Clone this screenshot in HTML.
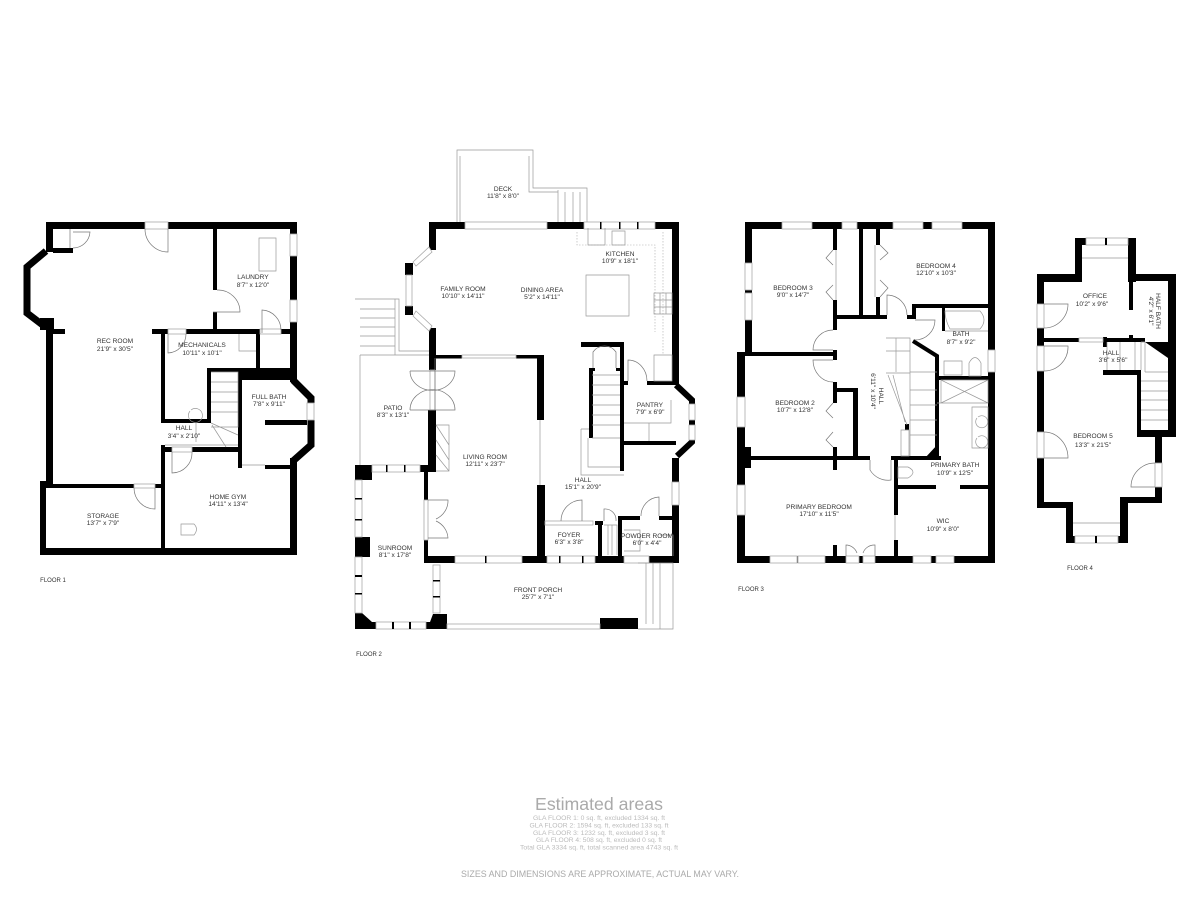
<!DOCTYPE html>
<html><head><meta charset="utf-8"><style>
html,body{margin:0;padding:0;background:#fff}
svg{display:block}
text{font-family:"Liberation Sans",sans-serif;font-size:6.6px;fill:#333;text-anchor:middle}
.b{fill:#000;stroke:none}
.w{fill:#fff;stroke:#aaa;stroke-width:.8}
.l{fill:none;stroke:#999;stroke-width:.7}
.d{fill:none;stroke:#777;stroke-width:.7}
.k{fill:none;stroke:#000}
.f{fill:#bbb;font-size:6.2px}
</style></head><body>
<svg width="1200" height="900" viewBox="0 0 1200 900" xmlns="http://www.w3.org/2000/svg">
<rect width="1200" height="900" fill="#fff"/>

<!-- FLOOR 1 -->
<g class="b">
<rect x="46" y="222" width="99" height="7"/><rect x="168" y="222" width="129" height="7"/>
<rect x="46" y="222" width="7" height="30"/><rect x="53" y="248" width="20" height="5"/>
<rect x="40" y="318" width="14" height="12"/><rect x="46" y="330" width="7" height="154"/>
<rect x="53" y="329" width="12" height="5"/><rect x="152" y="329" width="16" height="5"/><rect x="186" y="329" width="74" height="5"/><rect x="281" y="329" width="16" height="5"/>
<rect x="213" y="229" width="4" height="61"/><rect x="213" y="312" width="4" height="18"/>
<rect x="290" y="222" width="7" height="12"/><rect x="290" y="256" width="7" height="44"/><rect x="290" y="322" width="7" height="60"/>
<rect x="239" y="368" width="58" height="12"/><rect x="207" y="368" width="32" height="4"/><rect x="207" y="368" width="4" height="55"/>
<rect x="161" y="334" width="4" height="89"/><rect x="161" y="419" width="50" height="4"/><rect x="238" y="372" width="4" height="96"/><rect x="256" y="334" width="4" height="34"/>
<rect x="265" y="465" width="25" height="4"/><rect x="265" y="420" width="42" height="5"/>
<rect x="161" y="445" width="4" height="110"/><rect x="161" y="447" width="11" height="5"/><rect x="192" y="447" width="46" height="5"/>
<rect x="40" y="484" width="94" height="4"/><rect x="155" y="484" width="6" height="4"/>
<rect x="40" y="481" width="6" height="74"/><rect x="40" y="548" width="257" height="7"/><rect x="290" y="458" width="7" height="97"/>
</g>
<path class="k" stroke-width="7" d="M46 251L27 267V313L44 326"/>
<path class="k" stroke-width="7" d="M293 380L311 398V403M311 420V445L293 461"/>
<rect class="w" x="290" y="234" width="7" height="22"/><rect class="w" x="290" y="300" width="7" height="22"/><rect class="w" x="307" y="403" width="7" height="17"/>
<rect class="w" x="260" y="329" width="21" height="5"/><rect class="w" x="168" y="329" width="18" height="5"/><rect class="w" x="134" y="484" width="21" height="4"/><rect class="w" x="172" y="447" width="20" height="5"/><rect class="w" x="145" y="222" width="23" height="7"/>
<path class="d" d="M70 229V248M73 232H90A17 17 0 0 1 73 248M168 229V252A23 23 0 0 1 145 229M217 290A22 22 0 0 1 240 312H213M262 333V310A20 20 0 0 1 281 330M168 334V353A19 19 0 0 0 186 334M155 488V509A21 21 0 0 1 134 488M172 452V473A20 20 0 0 0 192 452"/>
<path class="l" d="M259 238H276V271H259ZM239 334V351H256M211 372H238V427H211M211 382H238M211 392H238M211 402H238M211 412H238M196 423V442M211 423L238 435M212 425L226 447M165 445H238M242 465H265M181 524H194Q199 529 194 535H181ZM190 411A7 7 0 1 0 191 410"/>

<text x="115" y="343">REC ROOM</text><text x="115" y="351">21'9" x 30'5"</text>
<text x="253" y="279">LAUNDRY</text><text x="253" y="287">8'7" x 12'0"</text>
<text x="202" y="347">MECHANICALS</text><text x="202" y="355">10'11" x 10'1"</text>
<text x="269" y="399">FULL BATH</text><text x="269" y="406">7'8" x 9'11"</text>
<text x="184" y="430">HALL</text><text x="184" y="438">3'4" x 2'10"</text>
<text x="228" y="499">HOME GYM</text><text x="228" y="506">14'11" x 13'4"</text>
<text x="103" y="518">STORAGE</text><text x="103" y="525">13'7" x 7'9"</text>
<text x="53" y="582" style="font-size:6px">FLOOR 1</text>

<!-- FLOOR 2 -->
<path class="l" stroke-width="1" d="M457 222V150H533V188H587V222M460 222V156M529 156V192H558M558 190V222M565 192V222M573 192V222M580 192V222"/>
<g class="b">
<rect x="429" y="222" width="36" height="7"/><rect x="547" y="222" width="37" height="7"/><rect x="655" y="222" width="24" height="7"/><rect x="672" y="222" width="7" height="163"/>
<rect x="429" y="222" width="7" height="28"/><rect x="405" y="263" width="8" height="12"/><rect x="405" y="306" width="8" height="9"/>
<rect x="429" y="328" width="7" height="42"/><rect x="428" y="410" width="8" height="62"/>
<rect x="436" y="355" width="26" height="3.500"/><rect x="516" y="355" width="28" height="3.500"/><rect x="537" y="355" width="7" height="65"/><rect x="537" y="485" width="8" height="78"/>
<rect x="424" y="472" width="4" height="28"/><rect x="424" y="540" width="4" height="20"/>
<rect x="424" y="556" width="31" height="7"/><rect x="522" y="556" width="25" height="7"/><rect x="595" y="556" width="29" height="7"/><rect x="649" y="556" width="30" height="7"/>
<rect x="595" y="521" width="8" height="4"/><rect x="598" y="521" width="4" height="36"/><rect x="618" y="516" width="4" height="41"/><rect x="618" y="516" width="22" height="4"/><rect x="659" y="516" width="14" height="4"/>
<rect x="581" y="342" width="43" height="5"/><rect x="620" y="342" width="4" height="129"/><rect x="647" y="381" width="26" height="4"/><rect x="624" y="381" width="4" height="4"/><rect x="624" y="441" width="52" height="4"/>
<rect x="589" y="368" width="4" height="70"/><rect x="589" y="368" width="6" height="3"/><rect x="616" y="368" width="4" height="3"/>
<rect x="672" y="458" width="7" height="24"/><rect x="672" y="505" width="7" height="58"/>
<rect x="355" y="465" width="17" height="15"/><rect x="420" y="465" width="8" height="7"/><rect x="355" y="537" width="15" height="20"/>
<path d="M355 613H362L372 622H376V629H355Z"/><path d="M426 629V622H430L433 614H447V629Z"/>
<rect x="600" y="618" width="38" height="11"/>
</g>
<path class="k" stroke-width="6" d="M676 385L692 400V404M692 420V425M692 440V442L677 456"/>
<g class="w">
<rect x="465" y="222" width="82" height="7"/><rect x="584" y="222" width="71" height="7"/><rect x="406" y="275" width="6" height="31"/>
<rect x="455" y="556" width="67" height="7"/><rect x="547" y="556" width="48" height="7"/><rect x="624" y="556" width="25" height="7"/>
<rect x="545" y="521" width="48" height="4"/>
<rect x="372" y="465" width="48" height="7"/><rect x="355" y="480" width="7" height="57"/><rect x="355" y="557" width="7" height="56"/><rect x="433" y="565" width="7" height="48"/><rect x="376" y="622" width="50" height="7"/>
<rect x="689" y="404" width="6" height="16"/><rect x="689" y="425" width="6" height="15"/><rect x="672" y="482" width="7" height="23"/><rect x="447" y="624" width="153" height="5"/>
<rect x="424" y="500" width="4" height="40"/><rect x="430" y="370" width="5" height="40"/>
<rect x="462" y="355" width="54" height="3"/>
<path d="M413 262L429 247L432 252L416 266ZM416 311L432 326L429 331L413 316Z"/>
</g>
<g class="b">
<rect x="386" y="465" width="1.500" height="7"/><rect x="404" y="465" width="1.500" height="7"/><rect x="355" y="498" width="7" height="1.500"/><rect x="355" y="519" width="7" height="1.500"/><rect x="355" y="575" width="7" height="2"/><rect x="355" y="593" width="7" height="1.500"/><rect x="392" y="622" width="2" height="7"/><rect x="409" y="622" width="2" height="7"/><rect x="433" y="580" width="7" height="1.500"/><rect x="433" y="596" width="7" height="1.500"/><rect x="485" y="556" width="1.500" height="7"/><rect x="559" y="556" width="1.500" height="7"/><rect x="582" y="556" width="1.500" height="7"/><rect x="600" y="222" width="1.500" height="7"/><rect x="619" y="222" width="1.500" height="7"/><rect x="637" y="222" width="1.500" height="7"/>
</g>
<path d="M577 232V245H655V332M663 232V355" fill="none" stroke="#aaa" stroke-width=".6" stroke-dasharray="1.500 1.500"/>
<path class="l" d="M588 228V245H605V228M612 231H625V245H612ZM586 275H629V316H586ZM654 293H672V314H654ZM654 300H672M654 307H672M660 293V314M666 293V314M654 355H672V381H654ZM360 355H429M360 355V465M360 299H395V355M360 309H395M360 318H395M360 327H395M360 336H395M360 346H395M355 299H399V351H429M540 420V485M592 375H620M592 385H620M592 395H620M592 405H620M592 415H620M592 425H620M592 438H620M588 438V467H620M581 429V475H624M581 429H589M624 423H671V400M649 423V441M638 563H673V629H638M646 563V624M653 563V624M660 563V629M604 525H617V555M608 525V555M612 525V555M436 425H449V471H436M436 425L449 445M436 440L449 460M436 455L449 471M660 535H673V556M624 530H640V551H624"/>
<path class="d" d="M410 371H455A22 19 0 0 1 410 371M410 410H455A22 20 0 0 0 410 410M435 358V410M428 500H448A20 20 0 0 1 436 519M436 521A20 20 0 0 1 448 538H428M593 368V352A14 14 0 0 1 616 352V368M628 381V360A19 21 0 0 1 647 381M582 521V500A21 21 0 0 0 561 521M659 516V497A19 19 0 0 0 641 516M604 521V509A11 11 0 0 1 616 521"/>
<text x="503" y="191">DECK</text><text x="503" y="198">11'8" x 8'0"</text>
<text x="620" y="256">KITCHEN</text><text x="620" y="263">10'9" x 18'1"</text>
<text x="463" y="291">FAMILY ROOM</text><text x="463" y="298">10'10" x 14'11"</text>
<text x="542" y="292">DINING AREA</text><text x="542" y="299">5'2" x 14'11"</text>
<text x="650" y="407">PANTRY</text><text x="650" y="414">7'9" x 6'9"</text>
<text x="393" y="410">PATIO</text><text x="393" y="417">8'3" x 13'1"</text>
<text x="485" y="459">LIVING ROOM</text><text x="485" y="466">12'11" x 23'7"</text>
<text x="583" y="482">HALL</text><text x="583" y="489">15'1" x 20'9"</text>
<text x="569" y="537">FOYER</text><text x="569" y="544">6'3" x 3'8"</text>
<text x="647" y="538">POWDER ROOM</text><text x="647" y="545">6'0" x 4'4"</text>
<text x="395" y="550">SUNROOM</text><text x="395" y="557">8'1" x 17'8"</text>
<text x="538" y="592">FRONT PORCH</text><text x="538" y="599">25'7" x 7'1"</text>
<text x="369" y="656" style="font-size:6px">FLOOR 2</text>

<!-- FLOOR 3 -->
<g class="b">
<rect x="745" y="222" width="250" height="7"/><rect x="745" y="222" width="7" height="130"/><rect x="737" y="352" width="8" height="211"/><rect x="737" y="447" width="14" height="21"/>
<rect x="737" y="556" width="258" height="7"/><rect x="988" y="222" width="7" height="341"/>
<rect x="745" y="352" width="92" height="4"/>
<rect x="833" y="229" width="4" height="21"/><rect x="833" y="300" width="4" height="30"/><rect x="833" y="350" width="4" height="10"/><rect x="833" y="382" width="4" height="21"/><rect x="833" y="447" width="4" height="23"/>
<rect x="833" y="315" width="54" height="4"/><rect x="907" y="315" width="8" height="4"/>
<rect x="859" y="229" width="4" height="86"/><rect x="876" y="229" width="4" height="16"/><rect x="876" y="297" width="4" height="18"/>
<rect x="912" y="304" width="83" height="4"/><rect x="912" y="304" width="4" height="15"/><rect x="942" y="308" width="3" height="23"/>
<rect x="937" y="376" width="58" height="4"/>
<rect x="745" y="456" width="125" height="4"/><rect x="891" y="456" width="50" height="4"/>
<rect x="853" y="388" width="5" height="70"/><rect x="837" y="388" width="21" height="4"/>
<rect x="894" y="460" width="4" height="55"/><rect x="894" y="540" width="4" height="17"/>
<rect x="898" y="485" width="38" height="4"/><rect x="960" y="485" width="28" height="4"/>
<rect x="833" y="545" width="4" height="11"/>
<rect x="905" y="424" width="4" height="6"/>
<path d="M925 458L938 444V458Z"/>
</g>
<path class="k" stroke-width="4" d="M913 341L937 356V458"/>
<g class="w">
<rect x="782" y="222" width="30" height="7"/><rect x="842" y="222" width="15" height="7"/><rect x="893" y="222" width="30" height="7"/><rect x="932" y="222" width="30" height="7"/>
<rect x="745" y="263" width="7" height="27"/><rect x="745" y="293" width="7" height="27"/><rect x="737" y="397" width="8" height="30"/><rect x="737" y="485" width="8" height="30"/>
<rect x="770" y="556" width="27" height="7"/><rect x="798" y="556" width="27" height="7"/><rect x="846" y="556" width="13" height="7"/><rect x="863" y="556" width="12" height="7"/><rect x="913" y="556" width="18" height="7"/><rect x="936" y="556" width="18" height="7"/><rect x="988" y="350" width="7" height="22"/>
</g>
<path class="l" d="M886 338H910V373H886M886 351H910M896 338V372M910 372H937M910 372V456M910 390H937M910 405H937M910 420H937M910 435H937M888 375L907 425M893 375L905 422M901 430H909V456H901ZM941 380H988V403H941ZM941 380L988 403M941 403L988 380M937 403H988M972 407H988V448H972ZM977 418A6 6 0 1 0 978 417M977 438A6 6 0 1 0 978 437M945 331H988M944 361H962V375H944ZM969 376V363Q975 352 981 363V376ZM898 467H908Q918 472 908 478H898ZM836 250V300M875 245V297M895 515V540M945 311H980Q988 320 980 329H950Q945 320 945 311Z"/>
<path class="d" d="M833 250L826 258L833 265M833 285L826 292L833 300M880 245L888 253L880 260M880 280L888 288L880 297M833 403L826 411L833 418M833 432L826 440L833 447M833 330A20 20 0 0 0 813 350H833M833 360H813A20 22 0 0 0 833 382M887 315V295A20 20 0 0 1 907 315M915 320H935A20 20 0 0 1 915 340M870 460V470A21 21 0 0 0 891 480V460M846 556V545A12 12 0 0 1 857 553M875 556V545A12 12 0 0 0 863 553"/>
<text x="793" y="290">BEDROOM 3</text><text x="793" y="297">9'0" x 14'7"</text>
<text x="936" y="268">BEDROOM 4</text><text x="936" y="275">12'10" x 10'3"</text>
<text x="795" y="405">BEDROOM 2</text><text x="795" y="412">10'7" x 12'8"</text>
<text x="961" y="336">BATH</text><text x="961" y="344">8'7" x 9'2"</text>
<text x="879" y="396" transform="rotate(90 879 396)">HALL</text>
<text x="871" y="391" transform="rotate(90 871 391)">6'11" x 10'4"</text>
<text x="955" y="467">PRIMARY BATH</text><text x="955" y="475">10'9" x 12'5"</text>
<text x="819" y="509">PRIMARY BEDROOM</text><text x="819" y="516">17'10" x 11'5"</text>
<text x="943" y="523">WIC</text><text x="943" y="531">10'9" x 8'0"</text>
<text x="751" y="591" style="font-size:6px">FLOOR 3</text>

<!-- FLOOR 4 -->
<g class="b">
<rect x="1075" y="238" width="11" height="7"/><rect x="1128" y="238" width="8" height="7"/>
<rect x="1075" y="238" width="7" height="44"/><rect x="1128" y="238" width="8" height="44"/>
<rect x="1037" y="274" width="45" height="8"/><rect x="1128" y="274" width="48" height="7"/>
<rect x="1037" y="274" width="7" height="30"/><rect x="1037" y="328" width="7" height="18"/><rect x="1037" y="371" width="7" height="61"/><rect x="1037" y="458" width="7" height="50"/>
<rect x="1037" y="502" width="36" height="6"/><rect x="1066" y="502" width="7" height="41"/><rect x="1066" y="536" width="9" height="7"/><rect x="1118" y="536" width="10" height="7"/><rect x="1120" y="502" width="8" height="41"/><rect x="1120" y="497" width="42" height="6"/>
<rect x="1155" y="435" width="7" height="28"/><rect x="1155" y="487" width="7" height="15"/>
<rect x="1138" y="430" width="38" height="7"/><rect x="1168" y="274" width="8" height="163"/><rect x="1137" y="372" width="4" height="65"/><rect x="1103" y="370" width="38" height="5"/>
<rect x="1044" y="338" width="35" height="4"/><rect x="1103" y="338" width="42" height="4"/><rect x="1103" y="337" width="4" height="10"/>
<rect x="1129" y="280" width="4" height="30"/><rect x="1129" y="335" width="4" height="5"/>
<path d="M1145 342H1168V358Z"/>
</g>
<g class="w">
<rect x="1086" y="238" width="42" height="7"/><rect x="1075" y="536" width="43" height="7"/>
<rect x="1037" y="304" width="7" height="24"/><rect x="1037" y="346" width="7" height="25"/><rect x="1037" y="432" width="7" height="26"/><rect x="1155" y="463" width="7" height="24"/><rect x="1079" y="338" width="24" height="4"/>
</g>
<g class="b"><rect x="1105" y="238" width="2" height="7"/><rect x="1095" y="536" width="2" height="7"/></g>
<path class="l" d="M1082 258H1128M1073 523H1120M1107 342V370M1120 342V370M1135 342V370M1141 342V370M1141 342H1145V372M1145 372H1168M1141 381H1168M1141 391H1168M1141 400H1168M1141 410H1168M1141 420H1168"/>
<path class="d" d="M1044 304H1068A24 24 0 0 1 1044 328M1044 346H1068A24 24 0 0 1 1044 371M1044 432A24 26 0 0 1 1068 458H1044M1155 463A24 24 0 0 0 1131 487H1155"/>
<text x="1095" y="298">OFFICE</text><text x="1092" y="306">10'2" x 9'6"</text>
<text x="1156" y="311" transform="rotate(90 1156 311)">HALF BATH</text>
<text x="1149" y="311" transform="rotate(90 1149 311)">4'2" x 6'1"</text>
<text x="1111" y="355">HALL</text><text x="1113" y="362">3'6" x 5'6"</text>
<text x="1093" y="438">BEDROOM 5</text><text x="1093" y="447">13'3" x 21'5"</text>
<text x="1080" y="570" style="font-size:6px">FLOOR 4</text>

<!-- FOOTER -->
<text x="599" y="810" style="font-size:17.500px;fill:#aaa" textLength="128" lengthAdjust="spacingAndGlyphs">Estimated areas</text>
<text class="f" x="599" y="820" textLength="132" lengthAdjust="spacingAndGlyphs">GLA FLOOR 1: 0 sq. ft, excluded 1334 sq. ft</text>
<text class="f" x="599" y="827.500" textLength="139" lengthAdjust="spacingAndGlyphs">GLA FLOOR 2: 1594 sq. ft, excluded 133 sq. ft</text>
<text class="f" x="599" y="835" textLength="132" lengthAdjust="spacingAndGlyphs">GLA FLOOR 3: 1232 sq. ft, excluded 3 sq. ft</text>
<text class="f" x="599" y="842" textLength="126" lengthAdjust="spacingAndGlyphs">GLA FLOOR 4: 508 sq. ft, excluded 0 sq. ft</text>
<text class="f" x="599" y="849.500" textLength="158" lengthAdjust="spacingAndGlyphs">Total GLA 3334 sq. ft, total scanned area 4743 sq. ft</text>
<text x="600" y="877" style="font-size:9.500px;fill:#aaa" textLength="278" lengthAdjust="spacingAndGlyphs">SIZES AND DIMENSIONS ARE APPROXIMATE, ACTUAL MAY VARY.</text>
</svg>
</body></html>
